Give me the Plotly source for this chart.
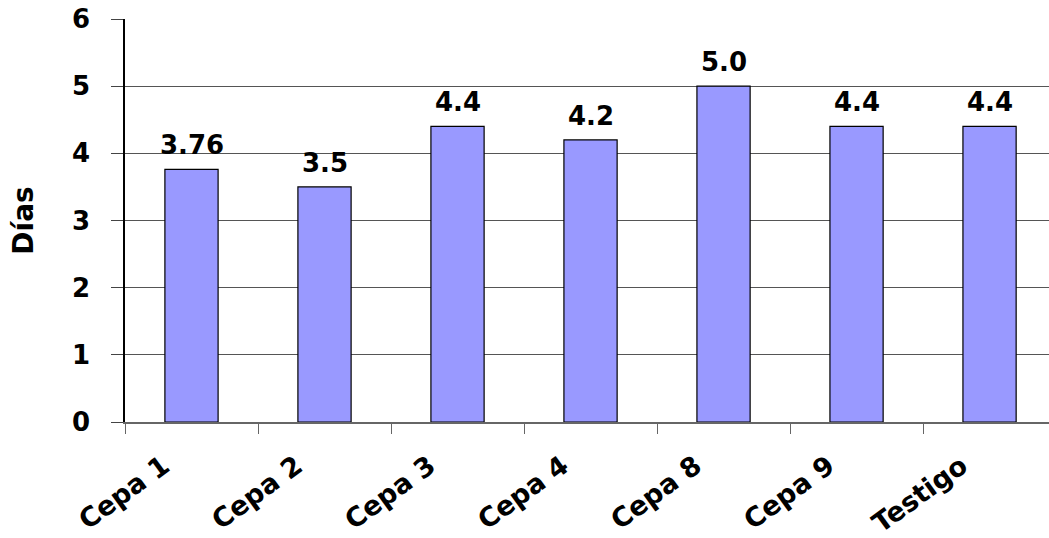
import plotly.graph_objects as go

categories = ["Cepa 1", "Cepa 2", "Cepa 3", "Cepa 4", "Cepa 8", "Cepa 9", "Testigo"]
values = [3.76, 3.5, 4.4, 4.2, 5.0, 4.4, 4.4]
labels = ["3.76", "3.5", "4.4", "4.2", "5.0", "4.4", "4.4"]
y_ticks = [0, 1, 2, 3, 4, 5, 6]

FONT = "DejaVu Sans"

fig = go.Figure()
fig.add_trace(go.Bar(
    x=categories, y=values,
    width=0.4,
    marker=dict(color="#9999FF", line=dict(color="#000000", width=1.2)),
    hoverinfo="skip",
))

for c, v, t in zip(categories, values, labels):
    fig.add_annotation(x=c, y=v, text=t, showarrow=False,
                       yanchor="bottom", yshift=7,
                       font=dict(family=FONT, size=26, color="#000000", weight="bold"))

fig.update_layout(
    width=1049, height=538,
    margin=dict(l=125, r=0, t=19, b=116, pad=0, autoexpand=False),
    paper_bgcolor="white", plot_bgcolor="white",
    showlegend=False,
    xaxis=dict(
        type="category",
        automargin=False,
        range=[-0.5, 6.447],
        tickson="boundaries",
        ticks="outside", ticklen=10, tickwidth=1.2, tickcolor="#666666",
        showline=True, linecolor="#666666", linewidth=1.5,
        showgrid=False,
        tickangle=-36,
        tickfont=dict(family=FONT, size=27, color="#000000", weight="bold"),
        ticklabelshift=-28,
        ticklabelstandoff=16,
    ),
    yaxis=dict(
        automargin=False,
        range=[0, 6],
        tickvals=y_ticks,
        ticks="outside", ticklen=12, tickwidth=1.2, tickcolor="#444444",
        showline=True, linecolor="#000000", linewidth=1.5,
        showgrid=True, gridcolor="#555555", gridwidth=1,
        zeroline=False,
        tickfont=dict(family=FONT, size=26, color="#000000", weight="bold"),
        ticklabelstandoff=16,
        title=dict(text="Días", font=dict(family=FONT, size=28, color="#000000", weight="bold"), standoff=30),
    ),
)

fig.write_html("out.html")
